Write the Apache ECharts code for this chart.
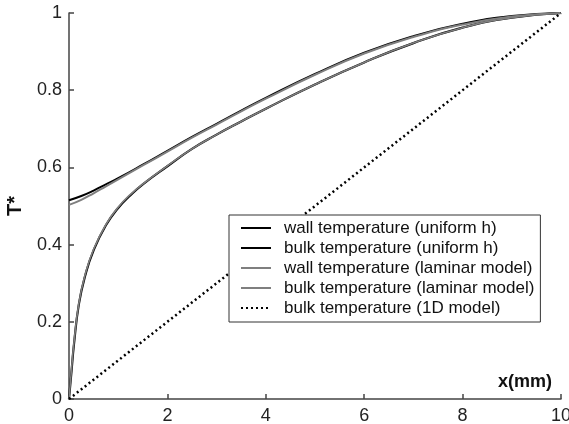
<!DOCTYPE html>
<html>
<head>
<meta charset="utf-8">
<title>T* vs x</title>
<script src="https://cdn.jsdelivr.net/npm/echarts@6/dist/echarts.min.js"></script>
<style>
    html, body { margin: 0; padding: 0; background: #fff; }
    #chart { width: 569px; height: 424px; }
</style>
</head>
<body>
<div id="chart"></div>
<script>
// x positions (mm)
var xs = [0, 0.25, 0.5, 0.75, 1, 1.5, 2, 2.5, 3, 3.5, 4, 5, 6, 7, 8, 9, 10];
// wall temperature, uniform h
var wallUniform = [0.515, 0.526, 0.540, 0.556, 0.572, 0.607, 0.643, 0.679, 0.713, 0.747, 0.780, 0.842, 0.897, 0.940, 0.972, 0.992, 1.0];
// wall temperature, laminar model
var wallLaminar = [0.503, 0.516, 0.533, 0.551, 0.569, 0.605, 0.641, 0.677, 0.711, 0.745, 0.778, 0.840, 0.895, 0.938, 0.970, 0.991, 1.0];
// bulk temperature x positions (denser near the inlet)
var xb = [0, 0.05, 0.1, 0.2, 0.33, 0.5, 0.75, 1, 1.25, 1.5, 2, 2.5, 3, 3.5, 4, 5, 6, 7, 8, 9, 10];
var bulkUniform = [0, 0.07, 0.14, 0.245, 0.32, 0.385, 0.45, 0.495, 0.528, 0.556, 0.603, 0.648, 0.685, 0.719, 0.752, 0.815, 0.872, 0.922, 0.962, 0.988, 1.0];
var bulkLaminar = [0, 0.075, 0.145, 0.248, 0.323, 0.388, 0.452, 0.497, 0.53, 0.557, 0.604, 0.648, 0.685, 0.719, 0.752, 0.815, 0.872, 0.922, 0.962, 0.988, 1.0];
// 1D model: straight line
var x1d = [0, 10];
var bulk1D = [0, 1];

var names = [
    'wall temperature (uniform h)',
    'bulk temperature (uniform h)',
    'wall temperature (laminar model)',
    'bulk temperature (laminar model)',
    'bulk temperature (1D model)'
];

function pairs(x, y) {
    return x.map(function (v, i) { return [v, y[i]]; });
}

var font = 'Liberation Sans, Arial, sans-serif';
var axisColor = '#444';

var myChart = echarts.init(document.getElementById('chart'));
var option = {
    backgroundColor: '#fff',
    animation: false,
    grid: { left: 69, right: 8, top: 13, bottom: 25, outerBoundsMode: 'none' },
    legend: {
        orient: 'vertical',
        left: 229,
        top: 215,
        data: names,
        selectedMode: false,
        itemWidth: 30,
        itemHeight: 14,
        itemGap: 0,
        padding: [3, 6, 4, 11],
        backgroundColor: '#fff',
        borderColor: '#333',
        borderWidth: 1,
        // hide the symbol, keep only the line
        itemStyle: { opacity: 0 },
        textStyle: {
            fontFamily: font,
            fontSize: 17,
            color: '#111',
            lineHeight: 20,
            padding: [0, 0, 0, 8]
        }
    },
    xAxis: {
        type: 'value',
        min: 0,
        max: 10,
        interval: 2,
        name: 'x(mm)',
        nameLocation: 'end',
        nameGap: -63,
        nameTextStyle: {
            fontFamily: font,
            fontSize: 18,
            fontWeight: 'bold',
            color: '#111',
            align: 'left',
            verticalAlign: 'bottom',
            padding: [0, 0, 8, 0]
        },
        axisLine: { lineStyle: { color: axisColor, width: 1.5 } },
        axisTick: { inside: true, length: 5, lineStyle: { color: axisColor, width: 1.5 } },
        axisLabel: { fontFamily: font, fontSize: 18, color: '#222', margin: 8 },
        splitLine: { show: false }
    },
    yAxis: {
        type: 'value',
        min: 0,
        max: 1,
        interval: 0.2,
        name: 'T*',
        nameLocation: 'middle',
        nameRotate: 90,
        nameGap: 44,
        nameTextStyle: {
            fontFamily: font,
            fontSize: 20,
            fontWeight: 'bold',
            color: '#111'
        },
        axisLine: { lineStyle: { color: axisColor, width: 1.5 } },
        axisTick: { inside: true, length: 5, lineStyle: { color: axisColor, width: 1.5 } },
        axisLabel: { fontFamily: font, fontSize: 18, color: '#222', margin: 7 },
        splitLine: { show: false }
    },
    series: [{
        name: names[0],
        type: 'line',
        symbol: 'none',
        smooth: true,
        data: pairs(xs, wallUniform),
        lineStyle: { color: '#000', width: 2 },
        itemStyle: { color: '#000' }
    }, {
        name: names[1],
        type: 'line',
        symbol: 'none',
        smooth: true,
        data: pairs(xb, bulkUniform),
        lineStyle: { color: '#000', width: 2.2 },
        itemStyle: { color: '#000' }
    }, {
        name: names[2],
        type: 'line',
        symbol: 'none',
        smooth: true,
        data: pairs(xs, wallLaminar),
        lineStyle: { color: '#7f7f7f', width: 2 },
        itemStyle: { color: '#7f7f7f' }
    }, {
        name: names[3],
        type: 'line',
        symbol: 'none',
        smooth: true,
        data: pairs(xb, bulkLaminar),
        lineStyle: { color: '#7f7f7f', width: 1.6 },
        itemStyle: { color: '#7f7f7f' }
    }, {
        name: names[4],
        type: 'line',
        symbol: 'none',
        data: pairs(x1d, bulk1D),
        lineStyle: { color: '#000', width: 2.5, type: [2, 3] },
        itemStyle: { color: '#000' }
    }]
};
myChart.setOption(option);
</script>
</body>
</html>
